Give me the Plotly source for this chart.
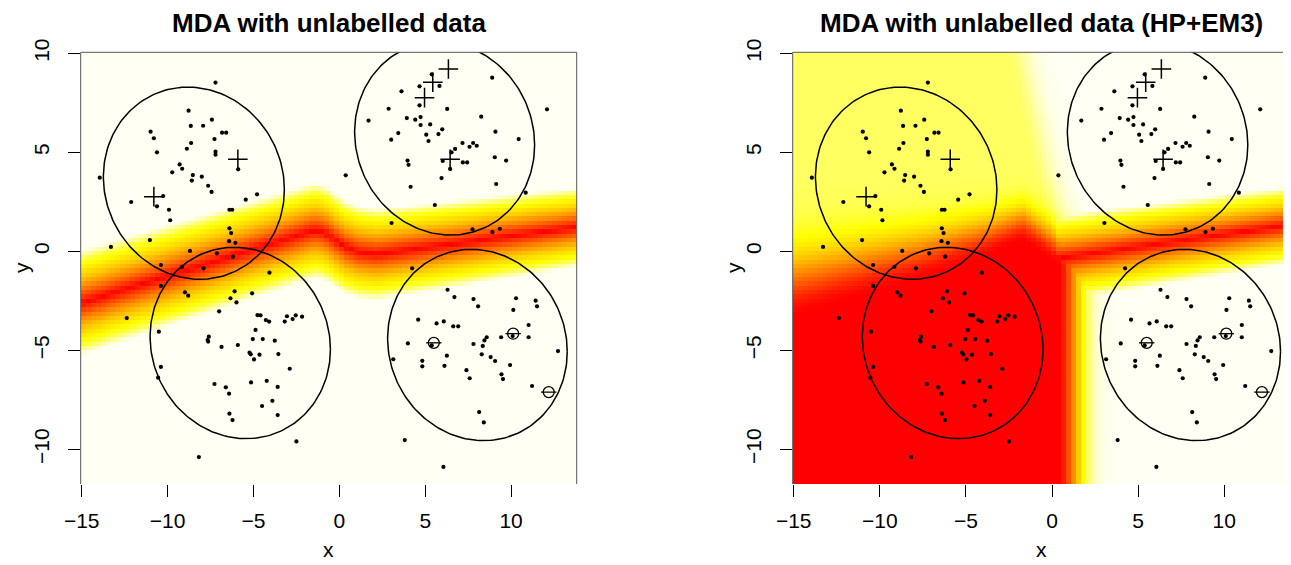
import numpy as np
import plotly.graph_objects as go

# ---------------- data ----------------
X_RANGE = [-15.06, 13.82]
Y_RANGE = [-11.75, 10.05]
x_ticks = [-15, -10, -5, 0, 5, 10]
y_ticks = [-10, -5, 0, 5, 10]

pts_x = [
    -7.21, -8.78, -10.99, -10.80, -10.62, -8.65, -7.93, -7.42, -7.27, -6.83, -6.59, -8.63, -8.88, -7.21, -7.21,
    -5.89, -9.30, -9.15, -9.73, -13.95, -8.53, -8.59, -8.01, -7.64, -7.44, -10.26, -10.62, -12.12, -9.92, -9.85,
    -6.40, -6.24, -5.45, -6.40, -6.30, -6.42, -6.05, -11.03, -13.30, -8.70, -7.13, -6.20, -10.39, -7.91, -9.15,
    -4.79, 0.37, 3.04, 3.62, 2.87, 3.93, 1.70, 3.43, 3.02, 3.97, 4.03, 4.15, 4.24,
    5.38, 4.67, 5.83, 4.67, 8.90, 6.28, 12.09, 4.42, 4.73, 8.26, 4.73, 5.29, 5.99, 5.77, 5.06, 5.19, 9.09, 10.44,
    7.17, 7.58, 7.79, 8.00, 6.74, 6.53, 6.02, 6.45, 7.19, 7.44, 9.05, 9.71, 5.95, 9.13, 10.85, 5.56, 7.75, 8.91, 9.34,
    -10.39, -8.99, -8.80, -6.10, -6.34, -5.99, -12.38, -7.00, -10.51, -7.60, -7.67, -7.64, -6.86, -5.91,
    -10.39, -10.55, -7.27, -6.61, -6.42, -6.40, -6.22, -8.18,
    -4.07, -5.08, -4.77, -4.59, -4.28, -4.09, -3.05, -2.72, -2.54, -2.17, -3.18, -4.88, -5.04, -4.46, -3.76,
    -5.23, -5.16, -4.65, -4.97, -3.55, -2.89, -5.14, -4.23, -3.59, -4.50, -3.90, -3.59, -2.50, 3.99, 3.14, 3.81,
    6.30, 6.70, 7.81, 8.08, 10.29, 10.13, 11.43, 11.51, 4.59, 5.66, 6.08, 6.63, 6.92, 11.02, 11.02, 9.42, 8.58,
    8.45, 7.81, 8.35, 5.38, 10.09, 12.73, 8.29, 8.81, 9.07, 6.26, 4.83, 4.83, 6.12, 7.40, 7.59, 9.94, 9.44, 9.53,
    11.22, 8.14, 8.41, 6.06,
]
pts_y = [
    8.52, 7.10, 6.04, 5.71, 5.00, 6.33, 6.34, 6.65, 5.67, 5.99, 5.99, 5.47, 5.18, 5.03, 4.88,
    4.14, 4.39, 4.17, 3.99, 3.72, 3.85, 3.57, 3.77, 3.31, 3.00, 2.79, 2.27, 2.49, 2.10, 1.57,
    2.10, 2.10, 2.61, 1.16, 0.92, 0.51, 0.43, 0.57, 0.22, 0.02, -0.10, -0.27, -0.69, -0.86, -0.78,
    2.88, 3.84, 1.43, 8.08, 7.20, 6.73, 6.60, 5.97, 5.64, 4.58, 4.37, 3.26, -0.86,
    8.94, 8.33, 8.35, 7.37, 8.77, 7.19, 7.17, 6.65, 6.78, 6.80, 6.38, 6.41, 6.16, 5.92, 5.89, 5.57, 6.04, 5.67,
    5.47, 5.28, 5.47, 5.33, 5.17, 5.00, 4.56, 4.16, 4.49, 4.49, 4.75, 4.58, 3.70, 3.40, 2.96, 2.34, 1.11, 0.97, 1.14,
    -1.75, -2.07, -2.24, -2.02, -2.37, -2.58, -3.37, -3.03, -4.06, -4.31, -4.48, -4.56, -4.83, -4.73,
    -5.84, -6.38, -6.70, -6.87, -7.19, -8.20, -8.52, -10.39,
    -1.08, -2.12, -3.22, -3.23, -3.47, -3.55, -3.28, -3.42, -3.23, -3.30, -3.55, -3.97, -4.43, -4.43, -4.51,
    -5.12, -5.20, -5.22, -5.46, -5.19, -5.93, -6.62, -6.54, -6.85, -7.81, -7.55, -8.27, -9.60, -4.65, -5.45, -9.53,
    -1.94, -2.31, -2.41, -2.78, -2.37, -2.96, -2.49, -2.78, -3.45, -3.64, -3.54, -3.79, -3.79, -3.72, -4.34, -4.34, -4.34,
    -4.50, -4.68, -4.78, -4.75, -4.28, -5.04, -5.20, -5.34, -5.54, -5.27, -5.53, -5.81, -5.78, -6.00, -6.41, -5.74, -6.21, -6.45,
    -6.80, -8.12, -8.64, -10.89,
]

plus_x = [-10.80, -5.91, 6.35, 5.44, 4.96, 6.45]
plus_y = [2.76, 4.65, 9.21, 8.54, 7.76, 4.65]

minus_x = [5.50, 10.12, 12.19]
minus_y = [-4.62, -4.16, -7.11]

# mixture component ellipses
ell_cx = [-8.47, -5.77, 6.13, 8.04]
ell_cy = [3.44, -4.63, 5.70, -4.73]
ell_sx = [5.27, 5.25, 5.24, 5.23]
ell_sy = [4.85, 4.83, 4.88, 4.83]
ell_cxy = [-1.69, -1.68, -1.73, -1.75]

# band colour profile (normalised distance -> level)
prof_d = [0.0, 0.08, 0.3, 0.5, 0.8, 1.0]
prof_z = [1.0, 0.88, 0.6, 0.4, 0.2, 0.0]

# left panel: ridge of the boundary band
ridgeL_x = [-15.06, -1.5, -0.9, -0.27, 0.3, 1.06, 2.2, 13.82]
ridgeL_y = [-2.6, 1.05, 0.95, 0.57, 0.23, -0.02, -0.14, 1.22]
bandL_wx = [-15.06, -1.4, 13.82]
bandL_w = [2.65, 2.4, 2.0]

# right panel fields
ridgeR_x = [0.0, 13.82]
ridgeR_y = [-0.40, 1.33]
bandR_w = [2.2, 1.95]
bnd_x = [-15.06, -7.5, -3.6, -1.7, -0.8, 0.5]
bnd_y = [-3.4, -1.4, -0.2, 0.5, 0.0, -0.8]
grad_x = [-15.06, -2.0]
grad_a = [2.8, 1.5]
edge_y = [-12.0, -0.5, 1.5, 4.0, 10.5]
edge_x = [0.3, 0.3, -0.3, -1.2, -2.8]
edge_w = 1.3
plateau = 0.15

# ---------------- geometry ----------------
OFF = 8.0                      # page body offset
W, H = 1283, 557
LDOM = [(80.7 - OFF) / W, (576.7 - OFF) / W]
RDOM = [(792.7 - OFF) / W, (1290.0 - OFF) / W]
YDOM = [1 - (484.0 - OFF) / H, 1 - (52.3 - OFF) / H]

FONT = "Liberation Sans, Arial, Helvetica, sans-serif"
heat_cs = [[0.0, "#FFFFF3"], [0.25, "#FFFF00"], [1.0, "#FF0000"]]

nx, ny = 100, 100
gx = np.linspace(X_RANGE[0], X_RANGE[1], nx + 1)
gy = np.linspace(Y_RANGE[0], Y_RANGE[1], ny + 1)
cx = (gx[:-1] + gx[1:]) / 2
cy = (gy[:-1] + gy[1:]) / 2
XX, YY = np.meshgrid(cx, cy)

rl = np.interp(XX, ridgeL_x, ridgeL_y)
wl = np.interp(XX, bandL_wx, bandL_w)
zLeft = np.interp(np.abs(YY - rl) / wl, prof_d, prof_z)

B = np.interp(XX, bnd_x, bnd_y)
A = np.interp(XX, grad_x, grad_a)
S = YY - B
lvl = np.where(S <= 0, 1.0, plateau + (1 - plateau) * np.exp(-(np.maximum(S, 0) / A) ** 2))
E = np.interp(YY, edge_y, edge_x)
T = np.maximum(0, XX - E)
zL = lvl * np.exp(-(T / edge_w) ** 2)
rr = ridgeR_y[0] + (XX - ridgeR_x[0]) * (ridgeR_y[1] - ridgeR_y[0]) / (ridgeR_x[1] - ridgeR_x[0])
wr = np.interp(XX, ridgeR_x, bandR_w)
lf = np.where(XX > -1, 1.0, np.exp(-((XX + 1) / 1.0) ** 2))
zH = np.interp(np.abs(YY - rr) / wr, prof_d, prof_z) * lf
zRight = np.maximum(zL, zH)


def ellipse_xy():
    xs, ys = [], []
    t = np.linspace(0, 2 * np.pi, 200)
    for cxx, cyy, sx, sy, sxy in zip(ell_cx, ell_cy, ell_sx, ell_sy, ell_cxy):
        L = np.linalg.cholesky(np.array([[sx ** 2, sxy], [sxy, sy ** 2]]))
        p = L @ np.vstack([np.cos(t), np.sin(t)])
        xs += list(cxx + p[0]) + [None]
        ys += list(cyy + p[1]) + [None]
    return xs, ys


ex, ey = ellipse_xy()

fig = go.Figure()
for i, z in enumerate([zLeft, zRight]):
    xa = "x" if i == 0 else "x2"
    ya = "y" if i == 0 else "y2"
    fig.add_trace(go.Heatmap(x=cx, y=cy, z=z, colorscale=heat_cs, zmin=0, zmax=1,
                             showscale=False, zsmooth=False, hoverinfo="skip",
                             xaxis=xa, yaxis=ya))
    fig.add_trace(go.Scatter(x=ex, y=ey, mode="lines", line=dict(color="black", width=1.5),
                             xaxis=xa, yaxis=ya, showlegend=False, hoverinfo="skip"))
    fig.add_trace(go.Scatter(x=pts_x, y=pts_y, mode="markers",
                             marker=dict(color="black", size=4.2),
                             xaxis=xa, yaxis=ya, showlegend=False))
    fig.add_trace(go.Scatter(x=plus_x, y=plus_y, mode="markers",
                             marker=dict(symbol="cross-thin", size=14, line=dict(color="black", width=1.5)),
                             xaxis=xa, yaxis=ya, showlegend=False))
    fig.add_trace(go.Scatter(x=minus_x, y=minus_y, mode="markers",
                             marker=dict(symbol="circle-open", size=11, color="black", line=dict(color="black", width=1.3)),
                             xaxis=xa, yaxis=ya, showlegend=False))
    fig.add_trace(go.Scatter(x=minus_x, y=minus_y, mode="markers",
                             marker=dict(symbol="line-ew", size=11, line=dict(color="black", width=1.3)),
                             xaxis=xa, yaxis=ya, showlegend=False))

axis_common = dict(showgrid=False, zeroline=False, showline=False, ticks="outside", ticklen=12,
                   tickwidth=1, tickcolor="black", automargin=False,
                   tickfont=dict(family=FONT, size=21, color="black"))
xax = dict(ticklabelstandoff=6, **axis_common)
yax = dict(ticklabelstandoff=10, tickangle=-90, **axis_common)

fig.update_layout(
    width=W, height=H, autosize=False,
    margin=dict(l=0, r=0, t=0, b=0, autoexpand=False),
    paper_bgcolor="white", plot_bgcolor="white",
    showlegend=False,
    xaxis=dict(domain=LDOM, range=X_RANGE, anchor="y", tickvals=x_ticks, **xax),
    yaxis=dict(domain=YDOM, range=Y_RANGE, anchor="x", tickvals=y_ticks, **yax),
    xaxis2=dict(domain=RDOM, range=X_RANGE, anchor="y2", tickvals=x_ticks, **xax),
    yaxis2=dict(domain=YDOM, range=Y_RANGE, anchor="x2", tickvals=y_ticks, **yax),
)

# thin frame on left, top, right of image region
for xr, yr in [("x domain", "y domain"), ("x2 domain", "y2 domain")]:
    for (x0, y0, x1, y1) in [(0, 0, 0, 1), (0, 1, 1, 1), (1, 0, 1, 1)]:
        fig.add_shape(type="line", xref=xr, yref=yr, x0=x0, y0=y0, x1=x1, y1=y1,
                      line=dict(color="#555555", width=1))


def px(xp):
    return (xp - OFF) / W


def py(yp):
    return 1 - (yp - OFF) / H


titles = ["MDA with unlabelled data", "MDA with unlabelled data (HP+EM3)"]
centers = [(LDOM[0] + LDOM[1]) / 2, (RDOM[0] + RDOM[1]) / 2]
ylab_x = [px(21.0), px(733.0)]
for title, c, yx in zip(titles, centers, ylab_x):
    fig.add_annotation(text="<b>%s</b>" % title, x=c, y=py(23.5), xref="paper", yref="paper",
                       showarrow=False, xanchor="center", yanchor="middle", borderpad=0,
                       font=dict(family=FONT, size=26, color="black"))
    fig.add_annotation(text="x", x=c, y=py(549.0), xref="paper", yref="paper",
                       showarrow=False, xanchor="center", yanchor="middle", borderpad=0,
                       font=dict(family=FONT, size=21, color="black"))
    fig.add_annotation(text="y", x=yx, y=py(268.0), xref="paper", yref="paper",
                       showarrow=False, xanchor="center", yanchor="middle", textangle=-90, borderpad=0,
                       font=dict(family=FONT, size=21, color="black"))

fig.write_html("out.html")
